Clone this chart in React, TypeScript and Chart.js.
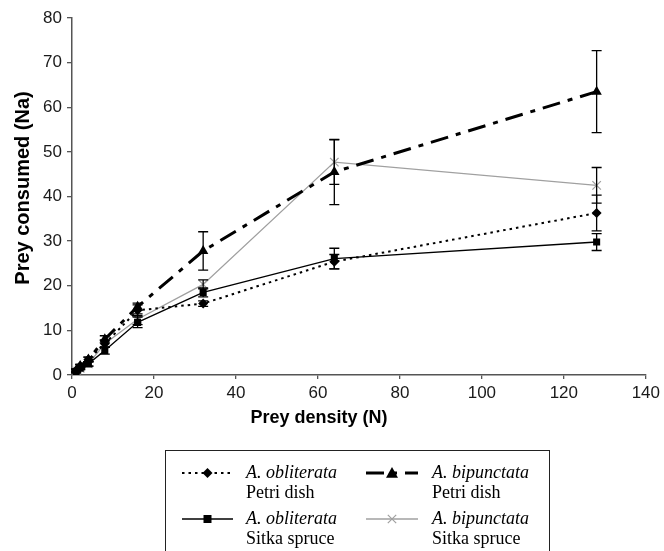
import React, { useEffect, useRef } from 'react';
import { Chart, registerables } from 'chart.js';

Chart.register(...registerables);

// ---- Data ----
const densities = [1, 2, 4, 8, 16, 32, 64, 128];

const oblPetri = [1, 2, 3.5, 7, 14.5, 16, 25.4, 36.3];
const oblPetriErr = [0.3, 0.4, 0.5, 0.8, 1.2, 0.6, 1.6, 4.0];

const bipPetri = [1, 2, 3.5, 8, 15.3, 27.8, 45.5, 63.5];
const bipPetriErr = [0.3, 0.4, 0.5, 0.8, 0.8, 4.3, 7.3, 9.2];

const oblSitka = [0.8, 1.5, 2.5, 5.5, 11.8, 18.5, 26.1, 29.8];
const oblSitkaErr = [0.3, 0.3, 0.5, 0.8, 1.2, 1.0, 2.3, 1.9];

const bipSitka = [1, 1.5, 2.5, 7, 12.5, 20.3, 47.7, 42.5];
const bipSitkaErr = [0.3, 0.3, 0.5, 0.8, 1.2, 1.0, 5.0, 4.0];

const legendSpecies = ['A. obliterata', 'A. bipunctata', 'A. obliterata', 'A. bipunctata'];
const legendSubstrate = ['Petri dish', 'Petri dish', 'Sitka spruce', 'Sitka spruce'];

const xTitle = 'Prey density (N)';
const yTitle = 'Prey consumed (Na)';

const toPoints = (ys: number[]) => densities.map((x, i) => ({ x, y: ys[i] }));

function drawMarker(ctx: CanvasRenderingContext2D, style: string, x: number, y: number, r: number, color: string) {
  ctx.save();
  ctx.fillStyle = color;
  ctx.strokeStyle = color;
  ctx.setLineDash([]);
  ctx.beginPath();
  if (style === 'rectRot') {
    ctx.moveTo(x, y - r);
    ctx.lineTo(x + r, y);
    ctx.lineTo(x, y + r);
    ctx.lineTo(x - r, y);
    ctx.closePath();
    ctx.fill();
  } else if (style === 'triangle') {
    ctx.moveTo(x, y - r);
    ctx.lineTo(x + r, y + r * 0.8);
    ctx.lineTo(x - r, y + r * 0.8);
    ctx.closePath();
    ctx.fill();
  } else if (style === 'rect') {
    ctx.rect(x - r * 0.8, y - r * 0.8, r * 1.6, r * 1.6);
    ctx.fill();
  } else if (style === 'crossRot') {
    const d = r * 0.7;
    ctx.lineWidth = 1.2;
    ctx.moveTo(x - d, y - d);
    ctx.lineTo(x + d, y + d);
    ctx.moveTo(x + d, y - d);
    ctx.lineTo(x - d, y + d);
    ctx.stroke();
  }
  ctx.restore();
}

const errorBarPlugin = {
  id: 'errorBars',
  afterDatasetsDraw(chart: any) {
    const ctx = chart.ctx;
    const yScale = chart.scales.y;
    chart.data.datasets.forEach((ds: any, i: number) => {
      const meta = chart.getDatasetMeta(i);
      const errs: number[] = ds.errorBars || [];
      meta.data.forEach((pt: any, j: number) => {
        const v = ds.data[j].y;
        const e = errs[j];
        if (!e) return;
        const x = pt.x;
        const yT = yScale.getPixelForValue(v + e);
        const yB = yScale.getPixelForValue(v - e);
        ctx.save();
        ctx.strokeStyle = '#000';
        ctx.lineWidth = 1.3;
        ctx.setLineDash([]);
        ctx.beginPath();
        ctx.moveTo(x, yT);
        ctx.lineTo(x, yB);
        ctx.moveTo(x - 5, yT);
        ctx.lineTo(x + 5, yT);
        ctx.moveTo(x - 5, yB);
        ctx.lineTo(x + 5, yB);
        ctx.stroke();
        ctx.restore();
      });
    });
  },
};

const annotationPlugin = {
  id: 'customText',
  afterDraw(chart: any) {
    const ctx = chart.ctx;
    ctx.save();
    // Axis titles
    ctx.fillStyle = '#000';
    ctx.textAlign = 'center';
    ctx.textBaseline = 'middle';
    ctx.font = 'bold 18px "Liberation Sans", Arial, sans-serif';
    ctx.fillText(xTitle, 319, 418);
    ctx.save();
    ctx.font = 'bold 20px "Liberation Sans", Arial, sans-serif';
    ctx.translate(23, 188);
    ctx.rotate(-Math.PI / 2);
    ctx.fillText(yTitle, 0, 0);
    ctx.restore();

    // Legend box
    ctx.strokeStyle = '#222';
    ctx.lineWidth = 1;
    ctx.strokeRect(165.5, 450.5, 384, 110);

    const slots = [
      { x0: 182, x1: 233, tx: 246, y: 473 },
      { x0: 366, x1: 418, tx: 432, y: 473 },
      { x0: 182, x1: 233, tx: 246, y: 519 },
      { x0: 366, x1: 418, tx: 432, y: 519 },
    ];
    chart.data.datasets.forEach((ds: any, i: number) => {
      const s = slots[i];
      ctx.save();
      ctx.strokeStyle = ds.borderColor;
      ctx.lineWidth = ds.borderWidth;
      ctx.setLineDash(ds.borderDash || []);
      ctx.beginPath();
      ctx.moveTo(s.x0, s.y);
      ctx.lineTo(s.x1, s.y);
      ctx.stroke();
      ctx.restore();
      drawMarker(ctx, ds.pointStyle, (s.x0 + s.x1) / 2, s.y, ds.pointRadius, ds.pointBackgroundColor);
      ctx.fillStyle = '#000';
      ctx.textAlign = 'left';
      ctx.textBaseline = 'middle';
      ctx.font = 'italic 18px "Liberation Serif", "Times New Roman", serif';
      ctx.fillText(legendSpecies[i], s.tx, s.y);
      ctx.font = '18px "Liberation Serif", "Times New Roman", serif';
      ctx.fillText(legendSubstrate[i], s.tx, s.y + 20);
    });
    ctx.restore();
  },
};

export default function App() {
  const canvasRef = useRef<HTMLCanvasElement | null>(null);

  useEffect(() => {
    if (!canvasRef.current) return;
    const chart = new Chart(canvasRef.current, {
      type: 'line',
      data: {
        datasets: [
          {
            label: 'A. obliterata Petri dish',
            data: toPoints(oblPetri),
            errorBars: oblPetriErr,
            borderColor: '#000',
            borderWidth: 2,
            borderDash: [2.5, 4],
            pointStyle: 'rectRot',
            pointRadius: 5,
            pointBackgroundColor: '#000',
            pointBorderColor: '#000',
            pointBorderWidth: 0,
          } as any,
          {
            label: 'A. bipunctata Petri dish',
            data: toPoints(bipPetri),
            errorBars: bipPetriErr,
            borderColor: '#000',
            borderWidth: 3,
            borderDash: [18, 8, 5, 8],
            pointStyle: 'triangle',
            pointRadius: 6,
            pointBackgroundColor: '#000',
            pointBorderColor: '#000',
            pointBorderWidth: 0,
          } as any,
          {
            label: 'A. obliterata Sitka spruce',
            data: toPoints(oblSitka),
            errorBars: oblSitkaErr,
            borderColor: '#000',
            borderWidth: 1.3,
            borderDash: [],
            pointStyle: 'rect',
            pointRadius: 5,
            pointBackgroundColor: '#000',
            pointBorderColor: '#000',
            pointBorderWidth: 0,
          } as any,
          {
            label: 'A. bipunctata Sitka spruce',
            data: toPoints(bipSitka),
            errorBars: bipSitkaErr,
            borderColor: '#a0a0a0',
            borderWidth: 1.3,
            borderDash: [],
            pointStyle: 'crossRot',
            pointRadius: 6,
            pointBackgroundColor: '#a0a0a0',
            pointBorderColor: '#a0a0a0',
            pointBorderWidth: 1.3,
          } as any,
        ],
      },
      options: {
        animation: false,
        responsive: true,
        maintainAspectRatio: false,
        layout: { padding: { top: 18, right: 17, left: 0, bottom: 0 } },
        plugins: {
          legend: { display: false },
          tooltip: { enabled: false },
        },
        elements: { line: { tension: 0 } },
        scales: {
          x: {
            type: 'linear',
            min: 0,
            max: 140,
            ticks: {
              stepSize: 20,
              color: '#1a1a1a',
              padding: 4,
              maxRotation: 0,
              font: { family: '"Liberation Sans", Arial, sans-serif', size: 17 },
            },
            grid: { drawOnChartArea: false, drawTicks: true, tickLength: 4, color: '#555', lineWidth: 1.3 },
            border: { display: true, color: '#555', width: 1.5 },
            afterFit: (scale: any) => {
              scale.height = 176;
            },
          },
          y: {
            type: 'linear',
            min: 0,
            max: 80,
            ticks: {
              stepSize: 10,
              color: '#1a1a1a',
              padding: 5,
              font: { family: '"Liberation Sans", Arial, sans-serif', size: 17 },
            },
            grid: { drawOnChartArea: false, drawTicks: true, tickLength: 5, color: '#555', lineWidth: 1.3 },
            border: { display: true, color: '#555', width: 1.5 },
            afterFit: (scale: any) => {
              scale.width = 72;
            },
          },
        },
      } as any,
      plugins: [errorBarPlugin, annotationPlugin],
    });
    return () => chart.destroy();
  }, []);

  return (
    <div style={{ position: 'absolute', left: 0, top: 0, width: 664, height: 551, background: '#fff' }}>
      <canvas ref={canvasRef} />
    </div>
  );
}
